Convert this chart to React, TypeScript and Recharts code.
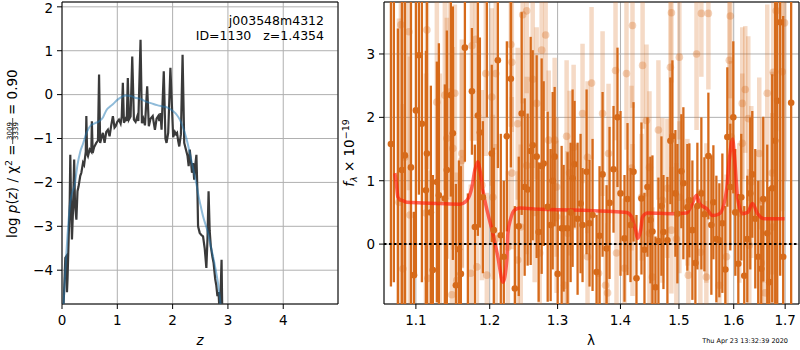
import React from 'react';
import {
  ComposedChart, Line, Scatter, ErrorBar, XAxis, YAxis, CartesianGrid,
  ReferenceLine, ReferenceArea,
} from 'recharts';

const FONT = 'DejaVu Sans';
const ORANGE = '#d66a1a';

// left panel: log p(z)
const pzZ = [0.02, 0.03, 0.06, 0.08, 0.09, 0.10, 0.12, 0.14, 0.15, 0.165, 0.18, 0.20, 0.22, 0.235, 0.26, 0.28, 0.30, 0.33, 0.35, 0.38, 0.40, 0.43, 0.44, 0.455, 0.47, 0.50, 0.53, 0.54, 0.555, 0.58, 0.62, 0.65, 0.67, 0.69, 0.72, 0.74, 0.77, 0.80, 0.83, 0.86, 0.89, 0.92, 0.95, 0.97, 1.00, 1.03, 1.06, 1.08, 1.10, 1.12, 1.15, 1.17, 1.19, 1.21, 1.24, 1.27, 1.30, 1.33, 1.36, 1.38, 1.42, 1.445, 1.47, 1.50, 1.54, 1.57, 1.60, 1.64, 1.66, 1.68, 1.71, 1.74, 1.76, 1.78, 1.80, 1.84, 1.87, 1.89, 1.92, 1.96, 2.01, 2.04, 2.06, 2.08, 2.10, 2.12, 2.15, 2.18, 2.21, 2.24, 2.27, 2.29, 2.31, 2.33, 2.35, 2.37, 2.39, 2.41, 2.43, 2.45, 2.46, 2.49, 2.52, 2.55, 2.58, 2.61, 2.63, 2.65, 2.67, 2.69, 2.72, 2.74, 2.77, 2.79, 2.81, 2.83, 2.85, 2.87, 2.885, 2.90];
const pzLog = [-5.0, -4.74, -3.72, -3.68, -4.5, -4.2, -3.3, -2.4, -1.37, -2.6, -3.3, -2.6, -1.48, -2.5, -2.85, -2.2, -2.09, -1.85, -1.78, -1.55, -1.6, -1.3, -0.49, -1.35, -1.4, -1.25, -1.3, -0.61, -1.33, -1.2, -1.1, -1.05, 0.46, -1.1, -0.95, -0.87, -1.1, -0.85, -0.8, -0.95, -0.7, -0.49, -0.75, -0.72, -0.62, -0.57, -0.66, -0.5, 0.27, -0.64, -0.55, -0.6, 0.38, -0.57, -0.5, 0.87, -0.57, -0.62, -0.5, -0.6, 1.25, -0.65, -0.55, -0.7, 0.19, -0.72, -0.55, -0.49, -0.65, -0.8, -0.55, -0.49, -0.6, -0.42, -0.8, 0.53, -1.0, -1.1, -0.87, 0.61, -0.97, -0.85, -0.9, -0.87, -1.05, -1.18, -0.9, 0.91, -1.1, -1.25, -1.4, -1.63, -1.25, -1.5, -1.78, -1.56, -1.94, -1.6, -1.37, -2.3, -3.0, -3.15, -3.2, -3.23, -3.5, -3.95, -3.3, -2.2, -3.1, -3.45, -3.7, -3.83, -4.2, -4.35, -4.59, -4.5, -5.0, -4.4, -3.76, -5.2];

const fitZ = [0.02, 0.06, 0.10, 0.14, 0.18, 0.23, 0.28, 0.33, 0.38, 0.45, 0.52, 0.60, 0.68, 0.74, 0.80, 0.86, 0.92, 1.00, 1.08, 1.16, 1.24, 1.32, 1.42, 1.52, 1.62, 1.72, 1.82, 1.92, 2.01, 2.08, 2.13, 2.18, 2.22, 2.27, 2.31, 2.36, 2.40, 2.44, 2.47, 2.51, 2.55, 2.60, 2.64, 2.68, 2.73, 2.78, 2.82, 2.86, 2.88];
const fitLog = [-5.0, -4.0, -3.2, -2.55, -2.25, -2.05, -1.6, -1.3, -1.12, -0.85, -0.7, -0.65, -0.6, -0.52, -0.36, -0.28, -0.22, -0.12, -0.05, -0.02, -0.03, -0.07, -0.1, -0.16, -0.2, -0.24, -0.27, -0.3, -0.38, -0.47, -0.57, -0.72, -0.87, -1.1, -1.33, -1.62, -1.86, -2.1, -2.32, -2.55, -2.77, -2.98, -3.15, -3.4, -3.68, -4.0, -4.29, -4.7, -5.0];

const zTicks = [0, 1, 2, 3, 4];
const pzTicks = [-4, -3, -2, -1, 0, 1, 2];

// right panel: spectrum
const darkLam = [1.0681, 1.0718, 1.0769, 1.0820, 1.0858, 1.0936, 1.0975, 1.1000, 1.1039, 1.1078, 1.1131, 1.1144, 1.1196, 1.1222, 1.1275, 1.1302, 1.1382, 1.1409, 1.1463, 1.1490, 1.1531, 1.1572, 1.1599, 1.1654, 1.1695, 1.1751, 1.1792, 1.1834, 1.1862, 1.1904, 1.1960, 1.2029, 1.2058, 1.2116, 1.2158, 1.2201, 1.2245, 1.2303, 1.2361, 1.2418, 1.2461, 1.2505, 1.2549, 1.2594, 1.2624, 1.2683, 1.2713, 1.2758, 1.2788, 1.2849, 1.2894, 1.2925, 1.2955, 1.3001, 1.3062, 1.3093, 1.3154, 1.3201, 1.3232, 1.3263, 1.3310, 1.3357, 1.3388, 1.3452, 1.3499, 1.3547, 1.3611, 1.3659, 1.3708, 1.3773, 1.3821, 1.3886, 1.3951, 1.4001, 1.4067, 1.4117, 1.4167, 1.4217, 1.4267, 1.4351, 1.4402, 1.4453, 1.4504, 1.4538, 1.4590, 1.4641, 1.4693, 1.4728, 1.4797, 1.4849, 1.4884, 1.4937, 1.4972, 1.5042, 1.5078, 1.5149, 1.5185, 1.5239, 1.5293, 1.5329, 1.5401, 1.5456, 1.5529, 1.5584, 1.5621, 1.5676, 1.5731, 1.5787, 1.5843, 1.5880, 1.5936, 1.5992, 1.6030, 1.6087, 1.6143, 1.6200, 1.6258, 1.6315, 1.6354, 1.6412, 1.6469, 1.6528, 1.6567, 1.6645, 1.6684, 1.6743, 1.6802, 1.6842, 1.6901, 1.6961, 1.7121];
const darkFlux = [1.58, 4.2, -1.2, 1.17, 1.40, 1.21, -0.49, 2.11, 2.98, 1.90, 0.85, 1.43, 0.50, -0.41, 0.98, 0.77, 0.72, 1.17, 2.35, 1.75, -0.65, -0.08, -0.47, 3.1, -1.1, 2.41, 0.27, 2.03, 1.76, 0.74, 4.0, 1.43, 0.22, 2.9, 0.14, -0.2, 1.7, 2.61, -0.7, 0.28, 2.06, 0.9, 0.86, 1.47, 1.56, 1.38, 0.19, 1.23, 1.27, 0.59, 0.3, 1.0, 1.38, -0.47, 0.25, 0.25, 0.25, 0.5, 1.04, 1.26, 0.40, 0.64, 0.30, 1.14, 0.33, 0.46, -0.44, 0.13, 1.10, -0.07, 0.65, 1.18, 2.0, 0.8, 0.09, 0.71, 0.3, 1.14, -0.54, 0.72, -0.09, 0.90, 0.38, 0.2, -0.68, 0.05, 0.6, 0.19, 0.06, 1.63, 1.70, 0.80, 0.48, 1.15, 0.96, 0.58, 0.69, 0.22, -0.3, 0.60, 0.80, 0.47, 1.39, 0.3, 0.66, 0.08, 0.06, 0.33, -0.4, 1.69, 0.9, 2.0, 0.5, -0.31, 0.74, -0.5, 0.08, 0.80, 1.10, 0.4, -0.20, -0.39, 0.71, 0.17, -0.6, 0.88, 1.63, 2.26, 3.5, -0.2, 2.23];
const darkErr = [2.25, 4.8, 4.6, 2.8, 3.0, 2.9, 1.0, 2.6, 2.2, 2.5, 2.2, 2.7, 2.0, 1.5, 1.9, 2.4, 1.8, 2.2, 1.6, 2.0, 1.6, 1.4, 1.7, 1.8, 1.9, 1.0, 1.3, 1.9, 1.5, 1.2, 2.0, 1.4, 1.3, 1.7, 1.6, 1.2, 1.5, 1.4, 1.3, 1.1, 1.6, 1.4, 1.2, 1.8, 1.5, 1.6, 1.1, 1.7, 1.3, 1.5, 1.2, 1.4, 1.1, 1.0, 1.3, 1.0, 1.2, 1.1, 1.4, 1.0, 1.2, 1.1, 0.9, 1.3, 1.0, 1.2, 0.9, 1.1, 1.3, 1.0, 1.2, 1.0, 1.1, 1.3, 1.0, 1.2, 0.9, 1.1, 1.0, 1.2, 0.9, 1.1, 1.0, 1.2, 0.8, 1.0, 1.1, 0.9, 1.0, 1.0, 1.2, 1.0, 1.1, 0.9, 1.2, 1.0, 0.9, 1.1, 0.9, 1.0, 1.2, 0.9, 1.0, 1.1, 0.9, 1.0, 0.9, 1.1, 1.0, 1.1, 1.0, 1.2, 1.0, 1.1, 1.0, 1.1, 1.0, 1.2, 1.0, 1.1, 1.2, 1.0, 1.3, 1.4, 1.5, 1.8, 2.6, 3.4, 4.0, 3.8, 4.2];

const lightLam = [1.0807, 1.0910, 1.1144, 1.1275, 1.1382, 1.1449, 1.1517, 1.1490, 1.1612, 1.1751, 1.1806, 1.1945, 1.2029, 1.2086, 1.2303, 1.2317, 1.2476, 1.2535, 1.2403, 1.2624, 1.2683, 1.2758, 1.2818, 1.2864, 1.2955, 1.3139, 1.3248, 1.3388, 1.3531, 1.3708, 1.3919, 1.4100, 1.4200, 1.4370, 1.4436, 1.4641, 1.4849, 1.4867, 1.5007, 1.5314, 1.5401, 1.5529, 1.5917, 1.5936, 1.6162, 1.6219, 1.6277, 1.6489, 1.6645, 1.6763, 1.6822, 1.6941, 1.6988,
  1.0782, 1.0833, 1.0923, 1.1131, 1.1157, 1.1315, 1.1476, 1.1544, 1.1736, 1.1820, 1.1959, 1.2086, 1.2260, 1.2403, 1.2447, 1.2653, 1.2728, 1.2985, 1.3108, 1.3154, 1.3467, 1.3643, 1.3756, 1.3789, 1.3935, 1.4067, 1.4200, 1.4353, 1.4487, 1.4538, 1.4710, 1.4867, 1.4954, 1.5167, 1.5383, 1.5492, 1.5731, 1.5865, 1.6105, 1.6296, 1.6528, 1.6606, 1.6743,
  1.0858, 1.1409, 1.1612, 1.1890, 1.2045, 1.2317, 1.2535, 1.2985, 1.3185, 1.3467, 1.3805, 1.4184, 1.4487, 1.4797, 1.5007, 1.5149, 1.5492, 1.5955, 1.6162, 1.6335, 1.6548, 1.6743];
const lightFlux = [3.46, 3.35, 3.38, 2.24, 2.35, 2.40, 2.38, 1.51, 1.43, 3.13, 3.23, 2.69, 2.32, 2.69, 3.15, 2.87, 3.62, 3.68, 1.90, 2.60, 2.22, 3.06, 3.30, 1.64, 1.64, 1.70, 1.53, 2.06, 2.54, 2.06, 2.74, 2.69, 3.45, 2.82, 1.95, 1.80, 2.79, 3.65, 2.95, 3.00, 3.64, 3.64, 2.90, 3.60, 2.22, 2.44, 1.98, 1.43, 2.38, 2.71, 3.68, 2.72, 3.49,
  0.66, -0.39, 0.46, 0.49, -0.54, 0.69, -0.80, -0.57, -0.46, -0.36, -0.49, 0.08, -0.05, -0.25, 0.27, 0.50, -0.14, 0.43, -0.65, 0.17, -0.20, -0.46, -0.65, -0.77, -0.14, -0.38, 0.38, 0.74, 0.17, -0.52, 0.69, 0.22, 0.08, -0.49, -0.13, -0.52, -0.65, -0.20, 0.49, -0.02, -0.30, -0.77, 0.27,
  1.37, 1.67, 1.32, 0.93, 0.74, 1.12, 1.24, 0.90, 1.12, 1.37, 1.43, 1.20, 1.21, 0.88, 0.74, 0.66, 0.49, 1.69, 1.59, 0.98, 0.69, 1.12];
const lightErr = [2.8, 2.5, 2.2, 1.6, 1.5, 1.7, 1.4, 1.6, 1.8, 1.5, 1.6, 1.3, 1.4, 1.2, 1.3, 1.1, 1.4, 1.3, 1.2, 1.4, 1.2, 1.1, 1.2, 1.1, 1.3, 1.2, 1.3, 1.1, 1.2, 1.3, 1.1, 1.2, 1.3, 1.0, 1.2, 1.1, 1.2, 1.1, 1.3, 1.2, 1.0, 1.2, 1.1, 1.3, 1.2, 1.0, 1.3, 1.2, 1.4, 1.6, 1.9, 2.2, 2.5,
  2.9, 2.6, 2.5, 2.2, 1.7, 2.0, 1.5, 1.7, 1.4, 1.6, 1.3, 1.5, 1.2, 1.4, 1.3, 1.1, 1.3, 1.2, 1.1, 1.3, 1.2, 1.0, 1.2, 1.1, 1.3, 1.1, 1.2, 1.0, 1.2, 1.1, 1.3, 1.0, 1.2, 1.1, 1.0, 1.2, 1.1, 1.3, 1.1, 1.2, 1.3, 1.5, 1.8,
  2.6, 1.9, 1.7, 1.5, 1.3, 1.2, 1.4, 1.1, 1.3, 1.2, 1.1, 1.3, 1.2, 1.1, 1.2, 1.0, 1.1, 1.2, 1.1, 1.2, 1.3, 1.6];

const modelLam = [1.0731, 1.0750, 1.0769, 1.0795, 1.0820, 1.0884, 1.1091, 1.1316, 1.1585, 1.1681, 1.1751, 1.1792, 1.1834, 1.1862, 1.1904, 1.1974, 1.2045, 1.2116, 1.2188, 1.2245, 1.2260, 1.2303, 1.2361, 1.2434, 1.2730, 1.3234, 1.3773, 1.4102, 1.4185, 1.4252, 1.4286, 1.4337, 1.4370, 1.4455, 1.4887, 1.5134, 1.5224, 1.5314, 1.5368, 1.5495, 1.5606, 1.5735, 1.5865, 1.5922, 1.5978, 1.6016, 1.6072, 1.6167, 1.6263, 1.6359, 1.6456, 1.6592, 1.6749, 1.6988];
const modelFlux = [1.12, 0.95, 0.74, 0.70, 0.69, 0.66, 0.65, 0.64, 0.63, 0.69, 0.90, 1.17, 1.30, 1.17, 0.85, 0.48, 0.17, -0.20, -0.60, -0.25, 0.17, 0.41, 0.54, 0.57, 0.55, 0.54, 0.52, 0.50, 0.43, 0.22, 0.09, 0.22, 0.43, 0.49, 0.48, 0.49, 0.61, 0.77, 0.64, 0.56, 0.45, 0.48, 0.85, 1.37, 1.66, 1.37, 0.74, 0.48, 0.50, 0.64, 0.48, 0.40, 0.40, 0.40];

const lamTicks = [1.1, 1.2, 1.3, 1.4, 1.5, 1.6, 1.7];
const fluxTicks = [0, 1, 2, 3];

const Z_DOM: [number, number] = [0, 4.99];
const P_DOM: [number, number] = [-4.77, 2.11];
const L_DOM: [number, number] = [1.0594, 1.728];
const F_DOM: [number, number] = [-0.945, 3.82];

const pzData = pzZ.map((z, i) => ({ z, logp: pzLog[i] }));
const fitData = fitZ.map((z, i) => ({ z, logp: fitLog[i] }));
const darkData = darkLam.map((lam, i) => ({ lam, f: darkFlux[i], err: darkErr[i] }));
const lightData = lightLam.map((lam, i) => ({ lam, f: lightFlux[i], err: lightErr[i] }));
const modelData = modelLam.map((lam, i) => ({ lam, f: modelFlux[i] }));

// error bars cut at the plot frame, like matplotlib's clipping
const clippedErr = (d: any) => {
  const lo = Math.max(d.f - d.err, F_DOM[0]);
  const hi = Math.min(d.f + d.err, F_DOM[1]);
  if (hi <= lo) return [0, 0];
  return [d.f - lo, hi - d.f];
};
const inRange = (d: any) => d && d.f >= F_DOM[0] && d.f <= F_DOM[1];

const tickStyle = { fill: '#000', fontSize: 13.5, fontFamily: FONT };
const minus = (v: number) => (v < 0 ? `\u2212${-v}` : `${v}`);

const leftExtras = () => (
  <g fontFamily={FONT} fill="#000">
    <text x={324} y={25} fontSize={12.5} textAnchor="end">j003548m4312</text>
    <text x={324} y={39.5} fontSize={12.5} textAnchor="end" style={{ whiteSpace: 'pre' }}>ID=1130   z=1.4354</text>
    <text x={200} y={345} fontSize={13.5} textAnchor="middle" fontStyle="italic">z</text>
  </g>
);

const leftYLabel = () => (
  <g transform="translate(17,155) rotate(-90)" fontFamily={FONT} fill="#000">
    <text x={-83} y={0} fontSize={13.5}>
      log <tspan fontStyle="italic">p</tspan>(<tspan fontStyle="italic">z</tspan>) / χ
      <tspan dy={-5} fontSize={9.5}>2</tspan>
      <tspan dy={5}> =</tspan>
    </text>
    <text x={24} y={-5.5} fontSize={7} textAnchor="middle">3009</text>
    <line x1={11} x2={37} y1={-4.3} y2={-4.3} stroke="#000" strokeWidth={0.7} />
    <text x={24} y={1} fontSize={7} textAnchor="middle">3339</text>
    <text x={40} y={0} fontSize={13.5}>= 0.90</text>
  </g>
);

const rightExtras = () => (
  <g fontFamily={FONT} fill="#000">
    <text x={251} y={345} fontSize={13.5} textAnchor="middle">λ</text>
    <text x={448} y={343} fontSize={6.5} textAnchor="end">Thu Apr 23 13:32:39 2020</text>
  </g>
);

const rightYLabel = () => (
  <g transform="translate(14,153) rotate(-90)" fontFamily={FONT} fill="#000" fontSize={13.5}>
    <text x={0} y={0} textAnchor="middle">
      <tspan fontStyle="italic">f</tspan>
      <tspan dy={3} fontSize={9.5} fontStyle="italic">λ</tspan>
      <tspan dy={-3}> × 10</tspan>
      <tspan dy={-5} fontSize={9.5}>−19</tspan>
    </text>
  </g>
);

const darkDot = (p: any) => (inRange(p.payload) ? <circle cx={p.cx} cy={p.cy} r={3.3} fill={ORANGE} /> : <g />);
const lightDot = (p: any) => (inRange(p.payload) ? <circle cx={p.cx} cy={p.cy} r={3.8} fill={ORANGE} fillOpacity={0.3} /> : <g />);

export default function App() {
  return (
    <div style={{ position: 'absolute', left: 0, top: 0, width: 800, height: 350, background: '#fff' }}>
      <div style={{ position: 'absolute', left: 0, top: 0 }}>
        <ComposedChart width={340} height={350} margin={{ top: 2, right: 2, bottom: 0, left: 0 }}>
          <CartesianGrid stroke="#b0b0b0" strokeWidth={1} />
          <XAxis dataKey="z" type="number" domain={Z_DOM} ticks={zTicks} allowDataOverflow height={46}
            tickSize={5} tickMargin={6} axisLine={false} tickLine={{ stroke: '#000' }} tick={tickStyle} label={leftExtras} />
          <YAxis type="number" domain={P_DOM} ticks={pzTicks} allowDataOverflow width={62}
            tickSize={5} tickMargin={4} axisLine={false} tickLine={{ stroke: '#000' }} tick={tickStyle}
            tickFormatter={minus} label={leftYLabel} />
          <Line data={pzData} dataKey="logp" type="linear" stroke="#3a3a3a" strokeWidth={2.2} dot={false} isAnimationActive={false} />
          <Line data={fitData} dataKey="logp" type="monotone" stroke="#1f77b4" strokeOpacity={0.5} strokeWidth={2} dot={false} isAnimationActive={false} />
          <ReferenceArea x1={Z_DOM[0]} x2={Z_DOM[1]} y1={P_DOM[0]} y2={P_DOM[1]} fill="none" stroke="#000" strokeWidth={1} />
        </ComposedChart>
      </div>
      <div style={{ position: 'absolute', left: 340, top: 0 }}>
        <ComposedChart width={460} height={350} margin={{ top: 2, right: 1, bottom: 0, left: 0 }}>
          <CartesianGrid stroke="#b0b0b0" strokeWidth={1} />
          <XAxis dataKey="lam" type="number" scale="log" domain={L_DOM} ticks={lamTicks} allowDataOverflow height={46}
            tickSize={5} tickMargin={6} axisLine={false} tickLine={{ stroke: '#000' }} tick={tickStyle} label={rightExtras} />
          <YAxis type="number" domain={F_DOM} ticks={fluxTicks} allowDataOverflow width={44}
            tickSize={5} tickMargin={4} axisLine={false} tickLine={{ stroke: '#000' }} tick={tickStyle} label={rightYLabel} />
          <Scatter data={lightData} dataKey="f" shape={lightDot} isAnimationActive={false}>
            <ErrorBar dataKey={clippedErr} direction="y" width={0} stroke={ORANGE} strokeOpacity={0.25} strokeWidth={4.5} isAnimationActive={false} />
          </Scatter>
          <Scatter data={darkData} dataKey="f" shape={darkDot} isAnimationActive={false}>
            <ErrorBar dataKey={clippedErr} direction="y" width={0} stroke={ORANGE} strokeWidth={2.3} isAnimationActive={false} />
          </Scatter>
          <Line data={modelData} dataKey="f" type="monotone" stroke="#ff1a0a" strokeOpacity={0.65} strokeWidth={3.5} dot={false} isAnimationActive={false} />
          <ReferenceLine y={0} stroke="#000" strokeWidth={2} strokeDasharray="2.5 2.5" />
          <ReferenceArea x1={L_DOM[0]} x2={L_DOM[1]} y1={F_DOM[0]} y2={F_DOM[1]} fill="none" stroke="#000" strokeWidth={1} />
        </ComposedChart>
      </div>
    </div>
  );
}
